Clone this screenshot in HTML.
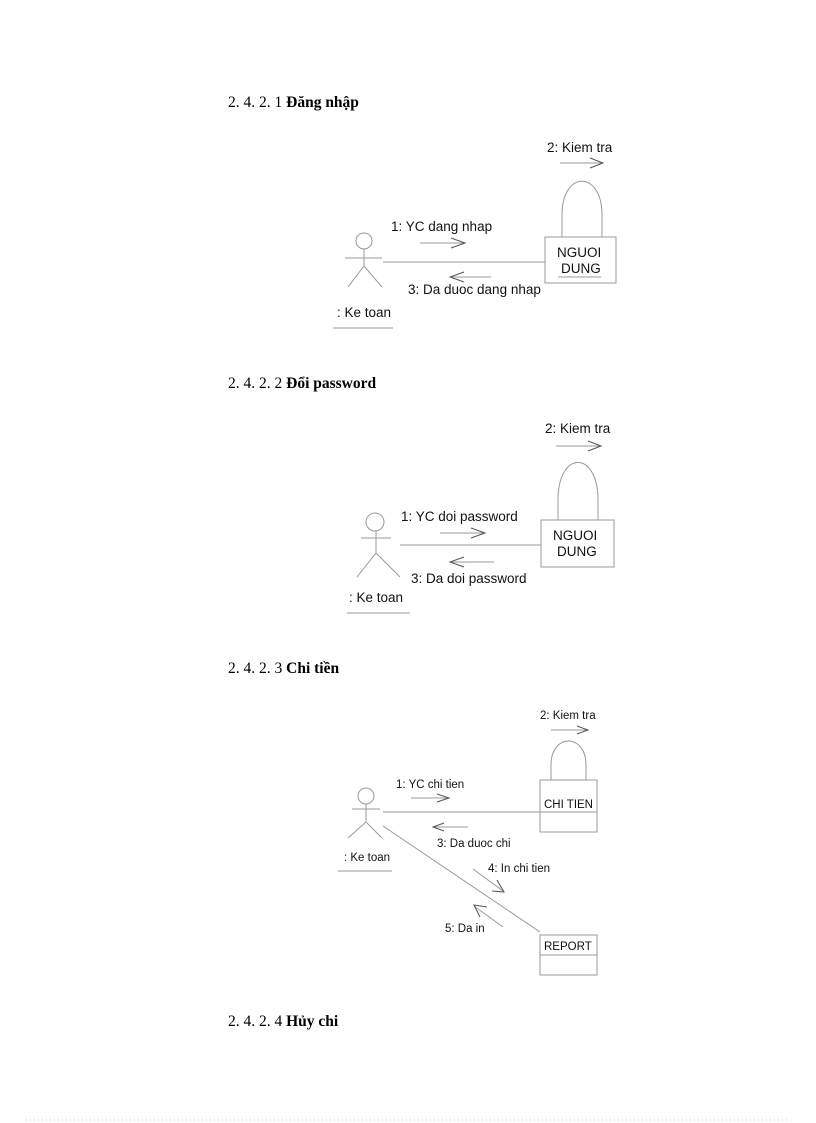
<!DOCTYPE html>
<html><head><meta charset="utf-8"><style>
html,body{margin:0;padding:0;background:#fff;}
svg{display:block}
.h{font-family:"Liberation Serif",serif;font-size:15.5px;fill:#000}
.t{font-family:"Liberation Sans",sans-serif;font-size:13.5px;fill:#111}
.s{font-family:"Liberation Sans",sans-serif;font-size:11.5px;fill:#111}
.l{stroke:#999;stroke-width:1;fill:none}
.a{stroke:#555;stroke-width:1;fill:none}
</style></head><body>
<svg width="816" height="1123" viewBox="0 0 816 1123" xmlns="http://www.w3.org/2000/svg">
<text class="h" x="228" y="107">2. 4. 2. 1 <tspan font-weight="bold">Đăng nhập</tspan></text>
<text class="h" x="228" y="388">2. 4. 2. 2 <tspan font-weight="bold">Đổi password</tspan></text>
<text class="h" x="228" y="673">2. 4. 2. 3 <tspan font-weight="bold">Chi tiền</tspan></text>
<text class="h" x="228" y="1026">2. 4. 2. 4 <tspan font-weight="bold">Hủy chi</tspan></text>

<!-- Diagram 1 -->
<text class="t" x="547" y="152">2: Kiem tra</text>
<line class="l" x1="560" y1="163" x2="602" y2="163"/><polyline class="a" points="590,158 603,163 590,168"/>
<path class="l" d="M562,237 L562,215 C562,170 602,170 602,215 L602,237"/>
<rect class="l" x="545" y="237" width="71" height="46"/>
<text class="t" x="557" y="257">NGUOI</text>
<text class="t" x="561" y="273">DUNG</text>
<line class="l" x1="558" y1="277" x2="601" y2="277"/>
<circle class="l" cx="364" cy="241" r="8"/>
<line class="l" x1="345" y1="258" x2="382" y2="258"/>
<line class="l" x1="364" y1="249" x2="364" y2="266"/>
<polyline class="l" points="348,287 364,266 382,287"/>
<line class="l" x1="383" y1="262" x2="545" y2="262"/>
<text class="t" x="391" y="231">1: YC dang nhap</text>
<line class="l" x1="420" y1="243" x2="465" y2="243"/><polyline class="a" points="451,238 465,243 451,248"/>
<text class="t" x="408" y="294">3: Da duoc dang nhap</text>
<line class="l" x1="450" y1="277" x2="491" y2="277"/><polyline class="a" points="464,272 450,277 464,282"/>
<text class="t" x="337" y="317">: Ke toan</text>
<line class="l" x1="333" y1="328" x2="393" y2="328"/>

<!-- Diagram 2 -->
<text class="t" x="545" y="433">2: Kiem tra</text>
<line class="l" x1="556" y1="446" x2="600" y2="446"/><polyline class="a" points="588,441 601,446 588,451"/>
<path class="l" d="M558,520 L558,500 C558,450 598,450 598,500 L598,520"/>
<rect class="l" x="541" y="520" width="73" height="47"/>
<text class="t" x="553" y="540">NGUOI</text>
<text class="t" x="557" y="556">DUNG</text>
<circle class="l" cx="375" cy="522" r="9"/>
<line class="l" x1="361" y1="538" x2="391" y2="538"/>
<line class="l" x1="376" y1="531" x2="376" y2="553"/>
<polyline class="l" points="357,577 376,553 400,577"/>
<line class="l" x1="400" y1="545" x2="541" y2="545"/>
<text class="t" x="401" y="521">1: YC doi password</text>
<line class="l" x1="440" y1="533" x2="485" y2="533"/><polyline class="a" points="471,528 485,533 471,538"/>
<text class="t" x="411" y="583">3: Da doi password</text>
<line class="l" x1="450" y1="562" x2="494" y2="562"/><polyline class="a" points="464,557 450,562 464,567"/>
<text class="t" x="349" y="602">: Ke toan</text>
<line class="l" x1="347" y1="613" x2="410" y2="613"/>

<!-- Diagram 3 -->
<text class="s" x="540" y="719">2: Kiem tra</text>
<line class="l" x1="551" y1="730" x2="587" y2="730"/><polyline class="a" points="577,726 588,730 577,734"/>
<path class="l" d="M551,780 L551,765 C551,733 586,733 586,765 L586,780"/>
<rect class="l" x="540" y="780" width="57" height="52"/>
<line class="l" x1="540" y1="812" x2="597" y2="812"/>
<text class="s" x="544" y="808">CHI TIEN</text>
<circle class="l" cx="366" cy="796" r="8"/>
<line class="l" x1="352" y1="809" x2="380" y2="809"/>
<line class="l" x1="366" y1="804" x2="366" y2="822"/>
<polyline class="l" points="348,838 366,822 382,838"/>
<line class="l" x1="383" y1="812" x2="540" y2="812"/>
<text class="s" x="396" y="788">1: YC chi tien</text>
<line class="l" x1="411" y1="798" x2="448" y2="798"/><polyline class="a" points="437,794 449,798 437,802"/>
<text class="s" x="437" y="847">3: Da duoc chi</text>
<line class="l" x1="433" y1="827" x2="468" y2="827"/><polyline class="a" points="444,823 433,827 444,831"/>
<text class="s" x="344" y="861">: Ke toan</text>
<line class="l" x1="338" y1="871" x2="392" y2="871"/>
<line class="l" x1="383" y1="826" x2="540" y2="932"/>
<text class="s" x="488" y="872">4: In chi tien</text>
<line class="l" x1="473" y1="869" x2="503" y2="891"/><polyline class="a" points="497,880 504,892 492,891"/>
<text class="s" x="445" y="932">5: Da in</text>
<line class="l" x1="503" y1="927" x2="474" y2="906"/><polyline class="a" points="487,907 474,905 480,917"/>
<rect class="l" x="540" y="935" width="57" height="40"/>
<line class="l" x1="540" y1="955" x2="597" y2="955"/>
<text class="s" x="544" y="950">REPORT</text>

<line x1="26" y1="1120" x2="790" y2="1120" stroke="#bbb" stroke-width="1" stroke-dasharray="1,3"/>
</svg>
</body></html>
